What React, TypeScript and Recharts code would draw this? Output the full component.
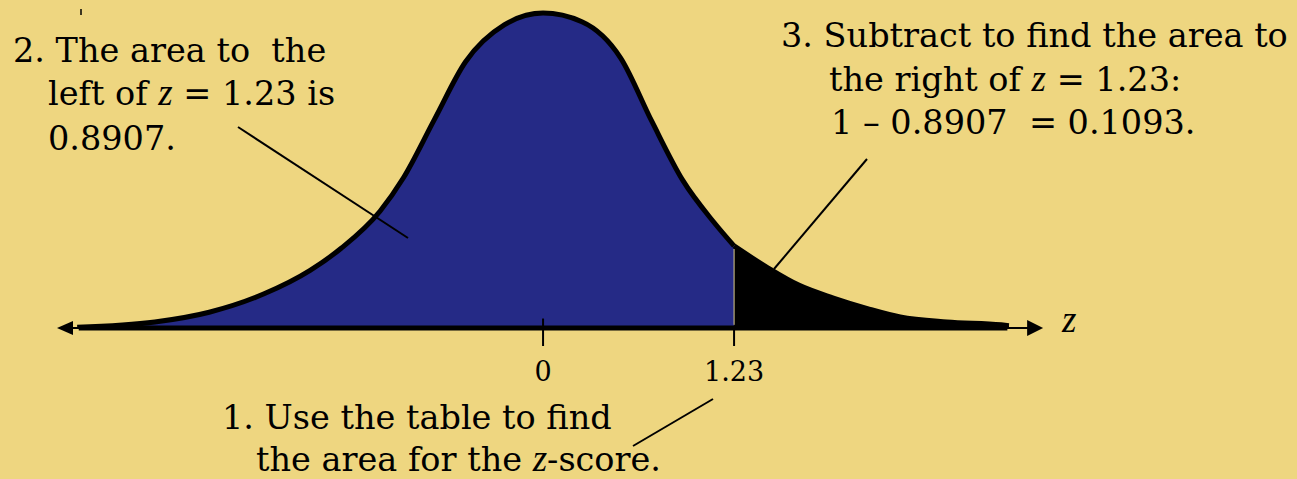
import React from "react";
import {
  ComposedChart,
  Area,
  XAxis,
  YAxis,
  ReferenceLine,
} from "recharts";

// z values and curve heights
const zValues = [
  -3, -2.5, -2.15, -1.8, -1.5, -1.3, -1.05, -0.9, -0.7, -0.5, -0.25, 0, 0.25,
  0.5, 0.7, 0.9, 1.1, 1.23, 1.45, 1.65, 1.87, 2.1, 2.3, 2.6, 2.95, 3,
];
const density = [
  0.001, 0.0076, 0.02, 0.043, 0.073, 0.101, 0.148, 0.19, 0.264, 0.337, 0.384,
  0.399, 0.388, 0.342, 0.262, 0.187, 0.134, 0.104, 0.076, 0.054, 0.038, 0.024,
  0.014, 0.0076, 0.004, 0.003,
];
const zCut = 1.23;
const tickValues = [0, 1.23];
const tickLabels = ["0", "1.23"];

const BG = "#EED680";
const BLUE = "#252A86";
const SERIF = "'DejaVu Serif', serif";
const ITALIC = "'Liberation Serif', serif";

const rows = zValues.map((z, i) => ({
  z,
  left: z <= zCut ? density[i] : null,
  right: z >= zCut ? density[i] : null,
}));

// thin axis with an arrow head at each end
const ArrowAxis = (props: any) => {
  const { x1, y1, x2, y2 } = props;
  return (
    <g>
      <line x1={x1 + 10} y1={y1} x2={x2 - 10} y2={y2} stroke="#000" strokeWidth={2} />
      <polygon points={`${x1},${y1} ${x1 + 16},${y1 - 7} ${x1 + 16},${y1 + 7}`} fill="#000" />
      <polygon points={`${x2},${y2} ${x2 - 16},${y2 - 8} ${x2 - 16},${y2 + 8}`} fill="#000" />
    </g>
  );
};

const Z = ({ children }: { children: string }) => (
  <tspan fontFamily={ITALIC} fontStyle="italic" fontSize={37}>
    {children}
  </tspan>
);

export default function App() {
  return (
    <div
      style={{
        position: "absolute",
        left: 0,
        top: 0,
        width: 1297,
        height: 479,
        background: BG,
        overflow: "hidden",
      }}
    >
      <ComposedChart
        width={1297}
        height={479}
        data={rows}
        margin={{ top: 0, right: 0, bottom: 71, left: 0 }}
      >
        <XAxis
          dataKey="z"
          type="number"
          domain={[-3.497, 4.855]}
          allowDataOverflow
          ticks={tickValues}
          interval={0}
          tickFormatter={(v) => tickLabels[tickValues.indexOf(v)] ?? String(v)}
          axisLine={false}
          tickLine={{ stroke: "#000", strokeWidth: 2 }}
          tickSize={18}
          tickMargin={16}
          height={80}
          tick={{ fontFamily: SERIF, fontSize: 27, fill: "#000" }}
        />
        <YAxis hide domain={[0, 0.4156]} allowDataOverflow />
        <Area
          dataKey="left"
          type="monotone"
          fill={BLUE}
          fillOpacity={1}
          stroke="#000"
          strokeWidth={5}
          isAnimationActive={false}
          dot={false}
          activeDot={false}
        />
        <Area
          dataKey="right"
          type="monotone"
          fill="#000"
          fillOpacity={1}
          stroke="#000"
          strokeWidth={5}
          isAnimationActive={false}
          dot={false}
          activeDot={false}
        />
        <ReferenceLine
          segment={[
            { x: zCut, y: 0.004 },
            { x: zCut, y: 0.1 },
          ]}
          stroke="#d9cb8c"
          strokeWidth={1}
        />
        <ReferenceLine
          segment={[
            { x: 0, y: 0 },
            { x: 0, y: 0.012 },
          ]}
          stroke="#000"
          strokeWidth={2}
        />
        <ReferenceLine
          segment={[
            { x: -3.13, y: 0 },
            { x: 3.22, y: 0 },
          ]}
          shape={ArrowAxis}
        />
        <ReferenceLine
          segment={[
            { x: -2.99, y: 0 },
            { x: 2.99, y: 0 },
          ]}
          stroke="#000"
          strokeWidth={5}
        />
      </ComposedChart>

      <svg
        width={1297}
        height={479}
        style={{ position: "absolute", left: 0, top: 0, pointerEvents: "none" }}
      >
        <g stroke="#000" strokeWidth={2}>
          <line x1={238} y1={127} x2={408} y2={238} />
          <line x1={867} y1={159} x2={774} y2={269} />
          <line x1={633} y1={446} x2={713} y2={399} />
          <line x1={81} y1={9} x2={81} y2={15} strokeWidth={1.5} />
        </g>
        <g fontFamily={SERIF} fontSize={33.5} fill="#000">
          <text x={13} y={62}>{"2. The area to\u00A0 the"}</text>
          <text x={48} y={105}>
            left of <Z>z</Z> = 1.23 is
          </text>
          <text x={48} y={150}>0.8907.</text>

          <text x={781} y={47}>3. Subtract to find the area to</text>
          <text x={829} y={91}>
            the right of <Z>z</Z> = 1.23:
          </text>
          <text x={831} y={134}>{"1 – 0.8907\u00A0 = 0.1093."}</text>

          <text x={222} y={429}>1. Use the table to find</text>
          <text x={256} y={471}>
            the area for the <Z>z</Z>-score.
          </text>

          <text x={1062} y={332}>
            <Z>z</Z>
          </text>
        </g>
      </svg>
    </div>
  );
}
